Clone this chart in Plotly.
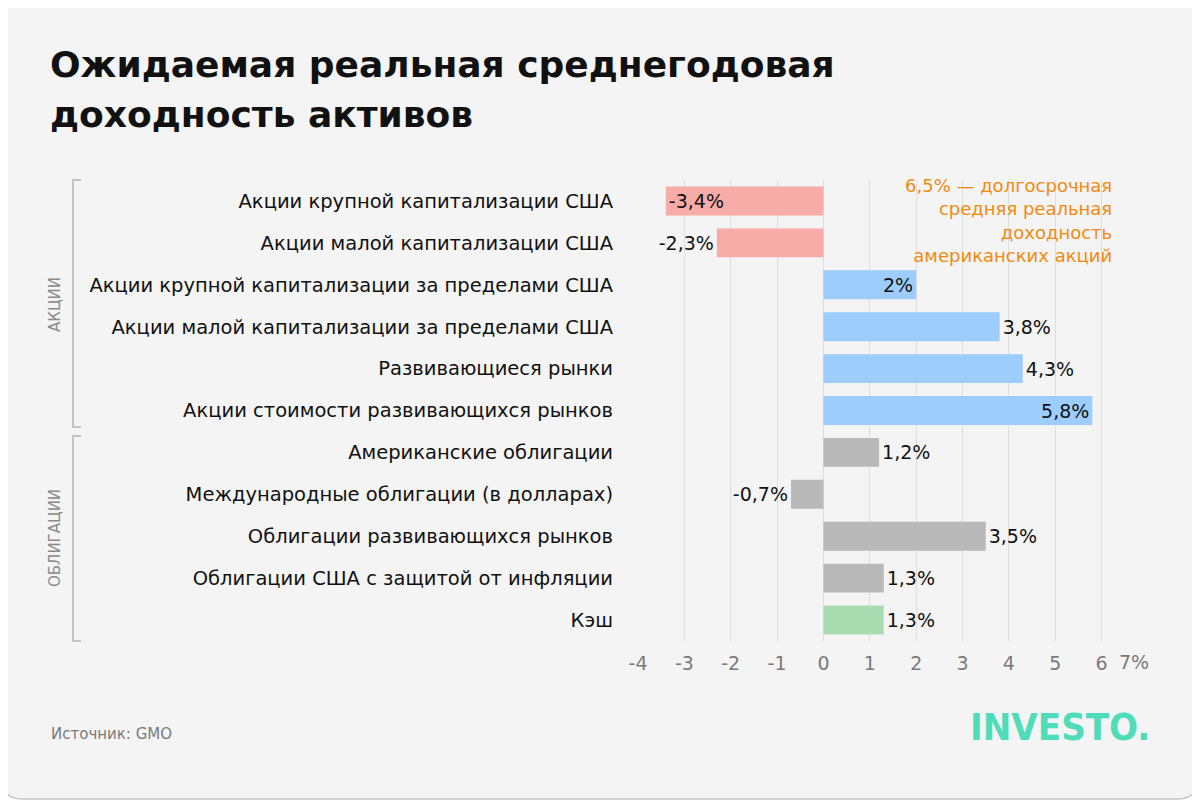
import plotly.graph_objects as go

categories = [
    "Акции крупной капитализации США",
    "Акции малой капитализации США",
    "Акции крупной капитализации за пределами США",
    "Акции малой капитализации за пределами США",
    "Развивающиеся рынки",
    "Акции стоимости развивающихся рынков",
    "Американские облигации",
    "Международные облигации (в долларах)",
    "Облигации развивающихся рынков",
    "Облигации США с защитой от инфляции",
    "Кэш",
]
values = [-3.4, -2.3, 2.0, 3.8, 4.3, 5.8, 1.2, -0.7, 3.5, 1.3, 1.3]
value_labels = ["-3,4%", "-2,3%", "2%", "3,8%", "4,3%", "5,8%", "1,2%", "-0,7%", "3,5%", "1,3%", "1,3%"]
groups = ["акции"] * 6 + ["облигации"] * 4 + ["кэш"]
tick_vals = [-4, -3, -2, -1, 0, 1, 2, 3, 4, 5, 6, 7]
tick_text = ["-4", "-3", "-2", "-1", "0", "1", "2", "3", "4", "5", "6", ""]
last_tick_label = "7%"

RED, BLUE, GRAY, GREEN = "#f7aca7", "#9dcdfd", "#b9b9b9", "#a9dcb1"
colors = []
for v, g in zip(values, groups):
    if g == "кэш":
        colors.append(GREEN)
    elif g == "облигации":
        colors.append(GRAY)
    elif v < 0:
        colors.append(RED)
    else:
        colors.append(BLUE)

inside = {"-3,4%", "2%", "5,8%"}
textpos = ["inside" if t in inside else "outside" for t in value_labels]

FONT = "DejaVu Sans"
W, H = 1200, 800
OFF = 8  # page body margin: figure pixel = screen pixel - OFF
L, R, T, B = 638 - OFF, 1148 - OFF, 180 - OFF, 641 - OFF


def px(x):  # screen x -> paper
    return (x - OFF - L) / (R - L)


def py(y):  # screen y -> paper
    return (B - (y - OFF)) / (B - T)


fig = go.Figure(
    go.Bar(
        x=values,
        y=categories,
        orientation="h",
        marker=dict(color=colors, line=dict(width=0)),
        width=0.69,
        text=value_labels,
        textposition=textpos,
        insidetextanchor="end",
        textfont=dict(family=FONT, size=19, color="#111111"),
        cliponaxis=False,
        constraintext="none",
        hoverinfo="skip",
    )
)

# rounded card background
r = 22
x0, y0, x1, y1 = 1, 1, 1199, 799
path = (
    f"M {px(x0 + r)} {py(y0)} L {px(x1 - r)} {py(y0)} "
    f"Q {px(x1)} {py(y0)} {px(x1)} {py(y0 + r)} "
    f"L {px(x1)} {py(y1 - r)} Q {px(x1)} {py(y1)} {px(x1 - r)} {py(y1)} "
    f"L {px(x0 + r)} {py(y1)} Q {px(x0)} {py(y1)} {px(x0)} {py(y1 - r)} "
    f"L {px(x0)} {py(y0 + r)} Q {px(x0)} {py(y0)} {px(x0 + r)} {py(y0)} Z"
)
shapes = [
    dict(type="path", xref="paper", yref="paper", path=path,
         fillcolor="#f4f4f4", line=dict(color="#c8c8c8", width=1.5), layer="below"),
]
# group brackets
for (ya, yb) in [(180, 427), (436, 641)]:
    shapes.append(dict(
        type="path", xref="paper", yref="paper",
        path=f"M {px(81)} {py(ya)} L {px(73)} {py(ya)} L {px(73)} {py(yb)} L {px(81)} {py(yb)}",
        line=dict(color="#b3b3b3", width=1.5), layer="below"))

annotations = [
    dict(text="<b>Ожидаемая реальная среднегодовая</b>", x=px(48), y=py(64), xref="paper", yref="paper",
         xanchor="left", yanchor="middle", showarrow=False,
         font=dict(family=FONT, size=36, color="#111111")),
    dict(text="<b>доходность активов</b>", x=px(48), y=py(114), xref="paper", yref="paper",
         xanchor="left", yanchor="middle", showarrow=False,
         font=dict(family=FONT, size=36, color="#111111")),
    dict(text="6,5% — долгосрочная<br>средняя реальная<br>доходность<br>американских акций",
         x=px(1114), y=py(173), xref="paper", yref="paper", xanchor="right", yanchor="top",
         align="right", showarrow=False,
         font=dict(family=FONT, size=18, color="#f5890f")),
    dict(text="АКЦИИ", x=px(55), y=py(305), xref="paper", yref="paper", textangle=-90,
         xanchor="center", yanchor="middle",
         showarrow=False, font=dict(family=FONT, size=15, color="#8a8a8a")),
    dict(text="ОБЛИГАЦИИ", x=px(55), y=py(538), xref="paper", yref="paper", textangle=-90,
         xanchor="center", yanchor="middle",
         showarrow=False, font=dict(family=FONT, size=15, color="#8a8a8a")),
    dict(text="Источник: GMO", x=px(49), y=py(734), xref="paper", yref="paper",
         xanchor="left", yanchor="middle", showarrow=False,
         font=dict(family=FONT, size=15, color="#7a7a7a")),
    dict(text="<b>INVESTO.</b>", x=px(1152), y=py(727), xref="paper", yref="paper",
         xanchor="right", yanchor="middle", showarrow=False,
         font=dict(family="DejaVu Sans Condensed", size=38, color="#4fdcb8")),
    dict(text=last_tick_label, x=tick_vals[-1], xref="x", y=py(662), yref="paper",
         xanchor="right", yanchor="middle", xshift=3, showarrow=False,
         font=dict(family=FONT, size=19, color="#7a7a7a")),
]

fig.update_layout(
    width=W, height=H,
    margin=dict(l=L, r=W - R, t=T, b=H - B, pad=0),
    paper_bgcolor="#ffffff",
    plot_bgcolor="rgba(0,0,0,0)",
    showlegend=False,
    shapes=shapes,
    annotations=annotations,
    xaxis=dict(
        range=[-4, 7], tickmode="array", tickvals=tick_vals, ticktext=tick_text,
        showgrid=True, gridcolor="#dedede", gridwidth=1, zeroline=False,
        showline=False, ticks="", ticklabelstandoff=9,
        tickfont=dict(family=FONT, size=19, color="#7a7a7a"),
        fixedrange=True,
    ),
    yaxis=dict(
        autorange="reversed", showgrid=False, zeroline=False, showline=False,
        ticks="", ticklabelstandoff=24,
        tickfont=dict(family=FONT, size=19.5, color="#111111"),
        fixedrange=True,
    ),
)

fig.write_html("out.html")
